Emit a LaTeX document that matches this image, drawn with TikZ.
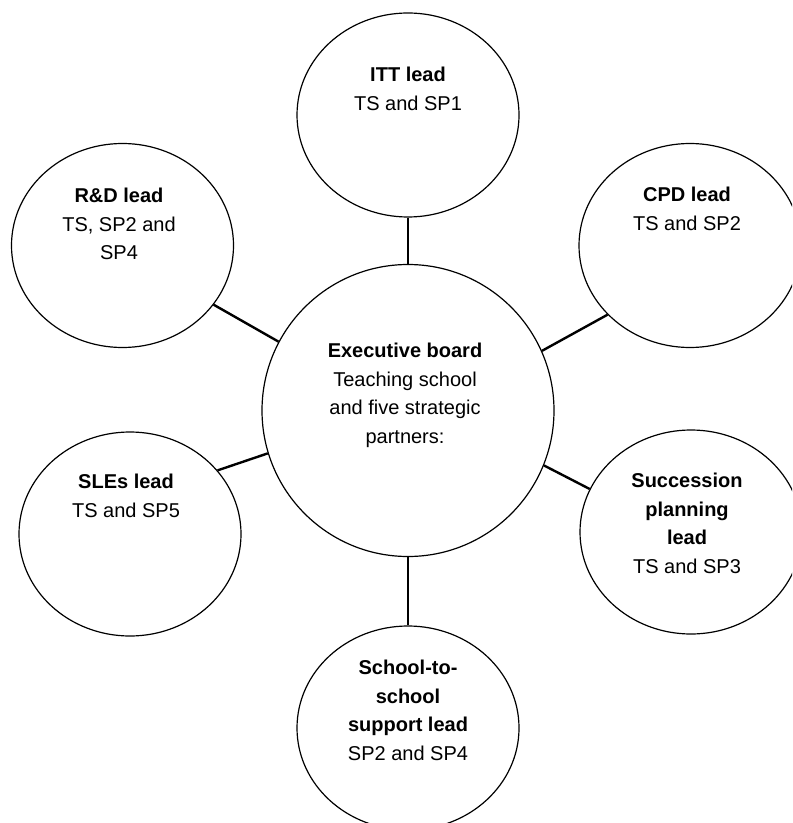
\documentclass[tikz,border=0pt]{standalone}
\usepackage{fontspec}
\setmainfont{Liberation Sans}
\usetikzlibrary{shapes.geometric}

\begin{document}
\begin{tikzpicture}[x=0.5pt,y=-0.5pt,
  lead/.style={draw,ellipse,line width=0.6pt,inner sep=0pt,minimum width=111pt,minimum height=102pt},
  txt/.style={anchor=north,align=center,inner sep=0pt,font=\fontsize{10}{14.25}\selectfont},
  link/.style={line width=1.2pt}]
  \useasboundingbox (0,0) rectangle (792,823);
  \clip (0,0) rectangle (792,823);
  % circles
  \node[lead,minimum width=146pt,minimum height=146pt] (exec) at (408,410.5) {};
  \node[lead] (itt) at (408,115) {};
  \node[lead] (rd) at (122.5,245.5) {};
  \node[lead] (cpd) at (690,245.5) {};
  \node[lead] (sles) at (130,534) {};
  \node[lead] (succ) at (691,532) {};
  \node[lead] (s2s) at (408,728) {};
  % texts
  \node[txt] (exec-t) at (405,343) {\textbf{Executive board}\\Teaching school\\and five strategic\\partners:};
  \node[txt] (itt-t) at (408,67) {\textbf{ITT lead}\\TS and SP1};
  \node[txt] (rd-t) at (119,188) {\textbf{R\&D lead}\\TS, SP2 and\\SP4};
  \node[txt] (cpd-t) at (687,187) {\textbf{CPD lead}\\TS and SP2};
  \node[txt] (sles-t) at (126,474) {\textbf{SLEs lead}\\TS and SP5};
  \node[txt] (succ-t) at (687,473) {\textbf{Succession}\\\textbf{planning}\\\textbf{lead}\\TS and SP3};
  \node[txt] (s2s-t) at (408,660) {\textbf{School-to-}\\\textbf{school}\\\textbf{support lead}\\SP2 and SP4};
  % links
  \foreach \x/\y in {itt.south/exec.north,rd.327/exec.152,cpd.220/exec.24,sles.36/exec.197,succ.157/exec.338,exec.south/s2s.north}{\draw[link] (\x)--(\y);}
\end{tikzpicture}
\end{document}
